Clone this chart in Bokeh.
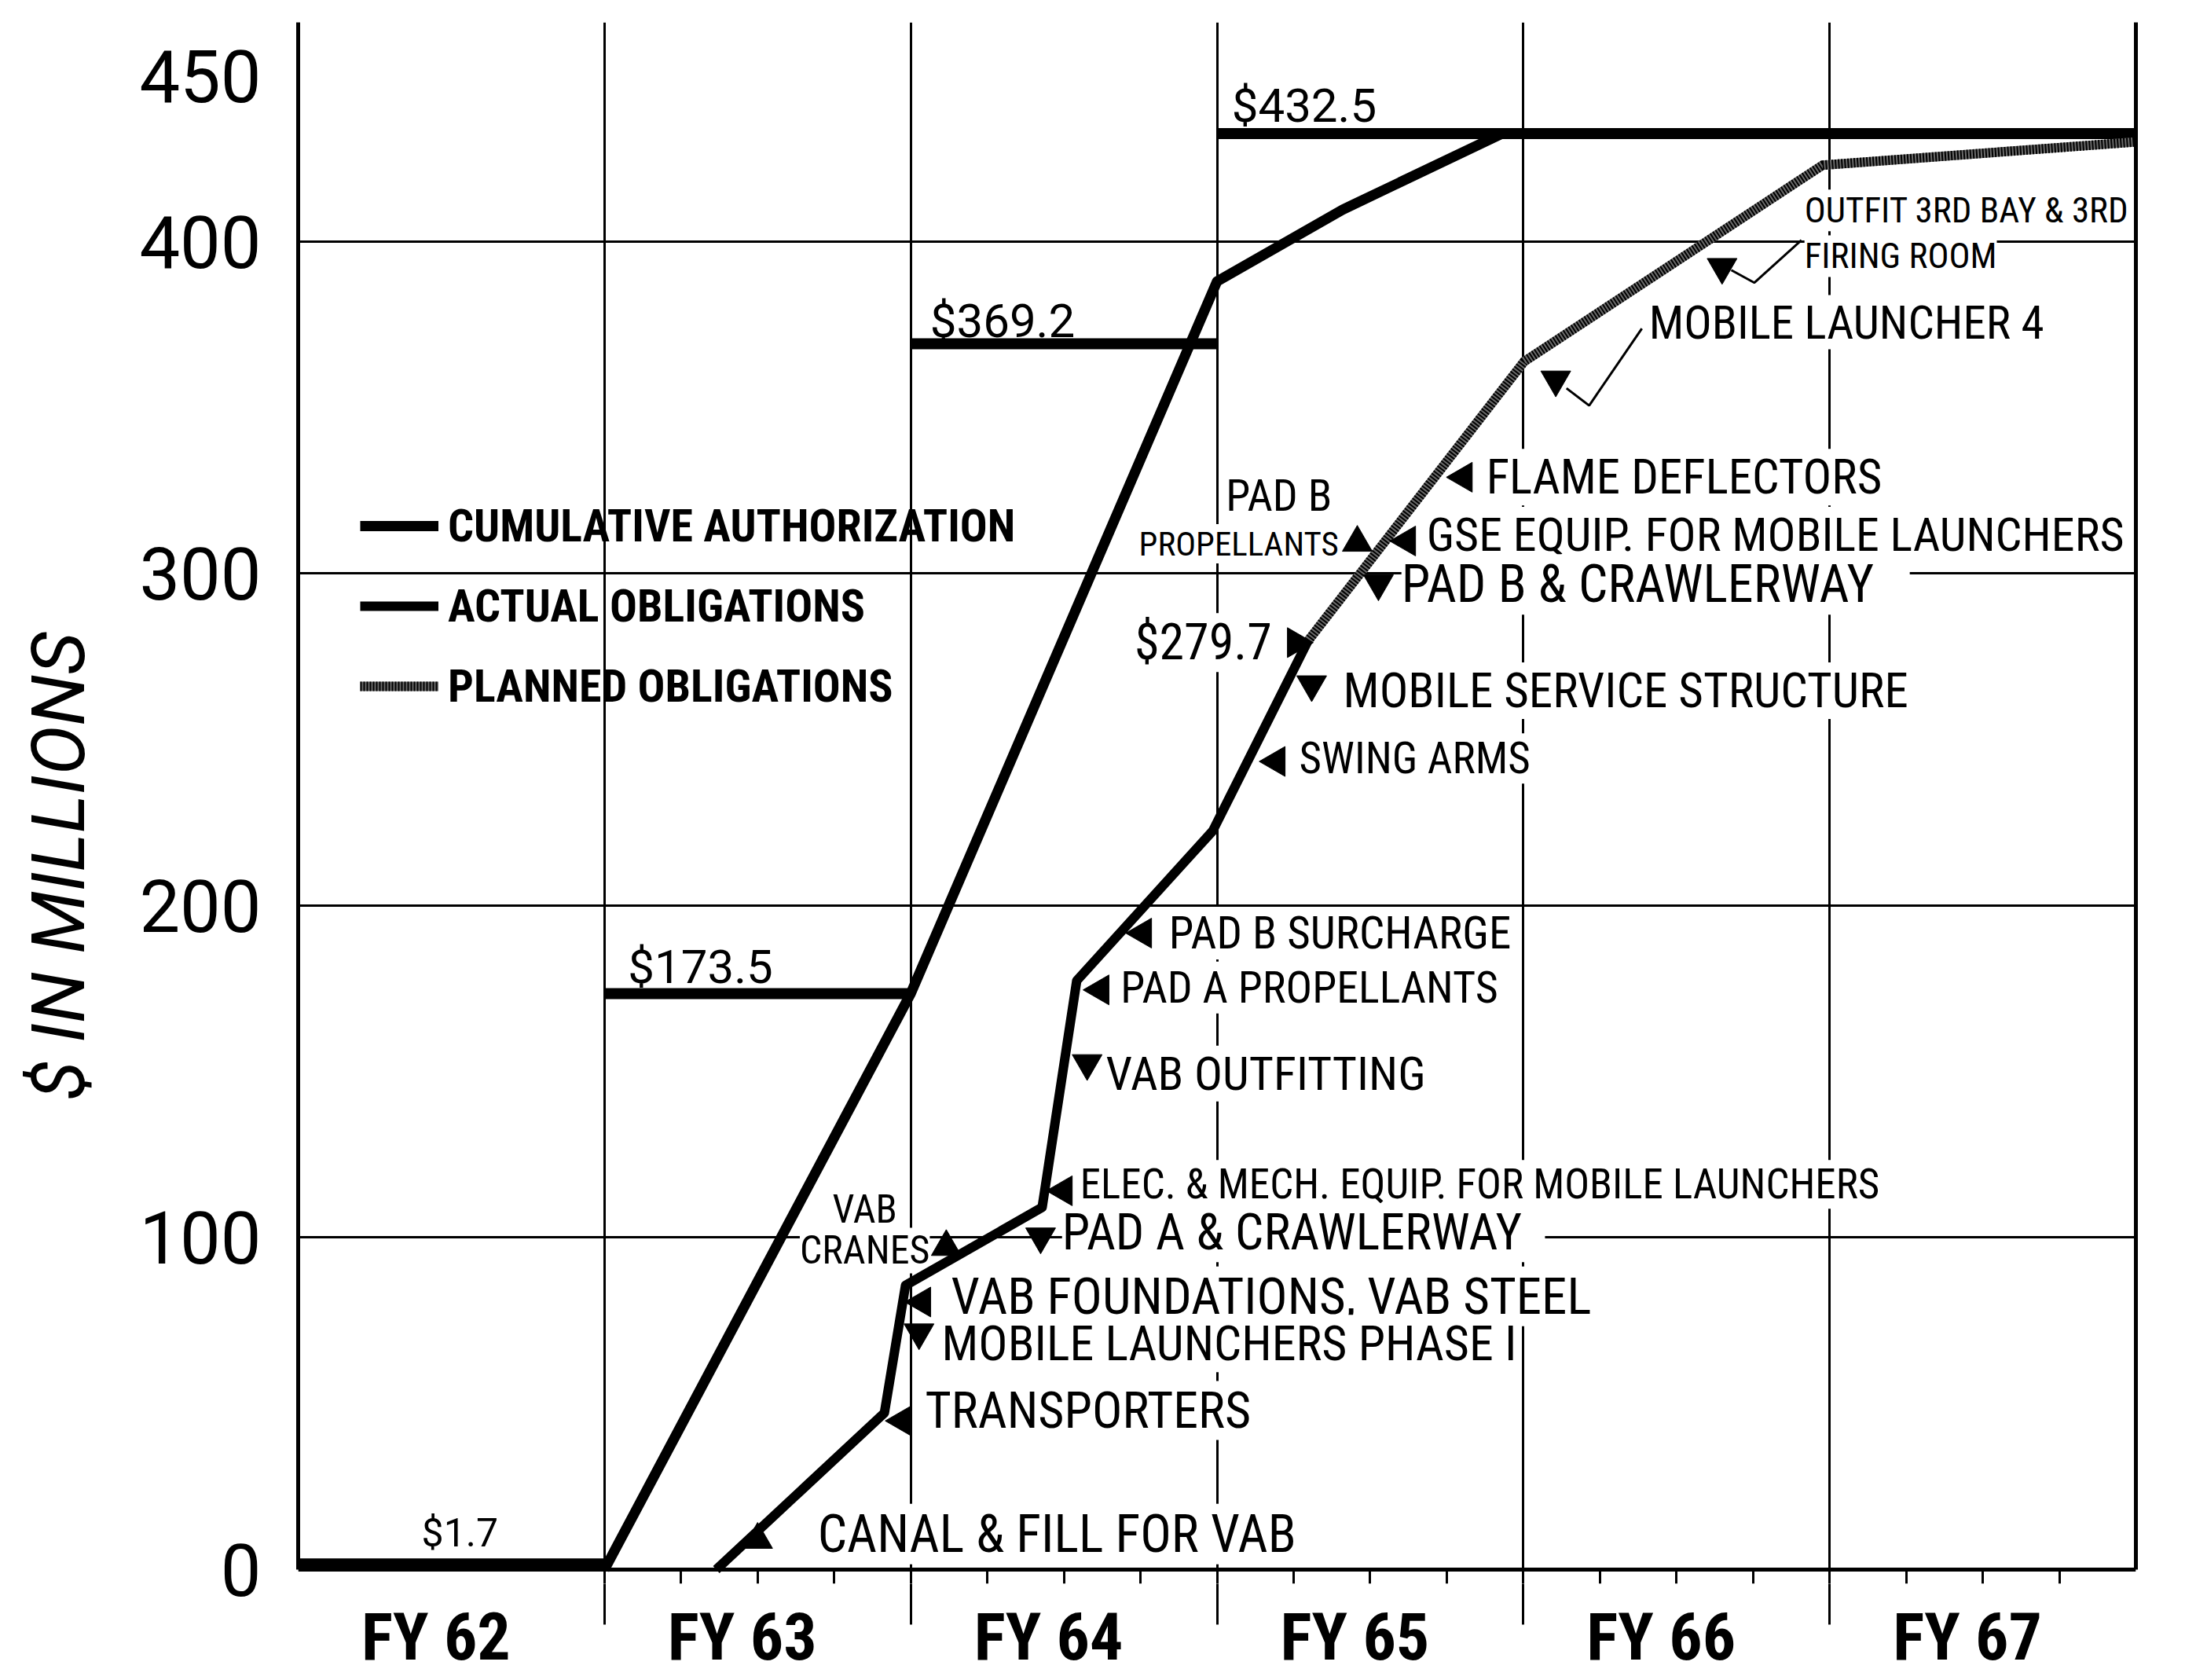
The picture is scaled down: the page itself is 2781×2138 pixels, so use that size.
import math
from bokeh.plotting import figure
from bokeh.models import (Range1d, LinearAxis, FixedTicker, Grid, Legend, LegendItem)
from bokeh.core.properties import value
from bokeh.embed import file_html
from bokeh.resources import INLINE

# ---------------- data ----------------
fy_labels = ["FY 62", "FY 63", "FY 64", "FY 65", "FY 66", "FY 67"]
fy_label_pos = [0.45, 1.45, 2.45, 3.45, 4.45, 5.45]
fy_bounds = [1, 2, 3, 4, 5]
y_ticks = [0, 100, 200, 300, 400, 450]
y_grid = [100, 200, 300, 400]

# cumulative authorization by fiscal year ($ millions)
auth_start = [0, 1, 2, 3]
auth_end = [1, 2, 3, 6]
auth_values = [1.7, 173.5, 369.2, 432.5]
auth_labels = ["$1.7", "$173.5", "$369.2", "$432.5"]

# cumulative authorization build-up line
auth_line_x = [1.0, 2.0, 3.0, 3.41, 3.93, 6.0]
auth_line_y = [0.0, 173.5, 388.0, 409.6, 432.5, 432.5]

# actual obligations
actual_x = [1.365, 1.914, 1.983, 2.429, 2.542, 2.986, 3.297]
actual_y = [0.0, 47.2, 85.6, 109.1, 177.4, 222.5, 279.7]

# planned obligations
planned_x = [3.297, 4.002, 4.977, 6.0]
planned_y = [279.7, 363.8, 423.0, 430.0]

# ---------------- annotation layout ----------------
auth_label_x = [0.403, 1.077, 2.063, 3.048]
auth_label_y = [11.0, 181.5, 376.0, 441.0]
auth_label_size = ["50px", "60px", "60px", "60px"]

# milestone notes: text, x, y, align, size
notes = [
    ("CANAL & FILL FOR VAB", 1.696, 10.7, "left", "66px"),
    ("TRANSPORTERS", 2.047, 47.9, "left", "64px"),
    ("MOBILE LAUNCHERS PHASE I", 2.101, 68.1, "left", "62px"),
    ("VAB FOUNDATIONS, VAB STEEL", 2.132, 82.3, "left", "65px"),
    ("VAB", 1.850, 108.6, "center", "50px"),
    ("CRANES", 1.850, 96.1, "center", "50px"),
    ("PAD A  &  CRAWLERWAY", 2.494, 101.5, "left", "64px"),
    ("ELEC. & MECH. EQUIP. FOR MOBILE LAUNCHERS", 2.553, 116.0, "left", "53px"),
    ("VAB OUTFITTING", 2.637, 149.4, "left", "60px"),
    ("PAD A PROPELLANTS", 2.685, 175.3, "left", "56px"),
    ("PAD B SURCHARGE", 2.843, 191.7, "left", "57px"),
    ("SWING ARMS", 3.268, 244.3, "left", "55px"),
    ("MOBILE  SERVICE  STRUCTURE", 3.412, 264.7, "left", "61px"),
    ("$279.7", 3.179, 279.2, "right", "64px"),
    ("PAD  B  &  CRAWLERWAY", 3.602, 296.7, "left", "66px"),
    ("GSE  EQUIP. FOR MOBILE LAUNCHERS", 3.684, 311.7, "left", "60px"),
    ("PAD B", 3.202, 323.5, "center", "56px"),
    ("PROPELLANTS", 3.071, 309.0, "center", "43px"),
    ("FLAME DEFLECTORS", 3.879, 329.0, "left", "61px"),
    ("MOBILE LAUNCHER 4", 4.410, 375.7, "left", "59px"),
    ("OUTFIT 3RD BAY & 3RD", 4.918, 409.4, "left", "45px"),
    ("FIRING ROOM", 4.918, 395.6, "left", "45px"),
]

# arrowheads: x, y, direction
arrows = [
    (1.50, 9.0, "up"), (1.973, 44.8, "left"), (2.027, 71.4, "down"),
    (2.037, 80.6, "left"), (2.116, 97.2, "up"), (2.424, 100.3, "down"),
    (2.499, 114.1, "left"), (2.576, 152.5, "down"), (2.619, 174.6, "left"),
    (2.758, 191.7, "left"), (3.194, 243.4, "left"), (3.309, 266.6, "down"),
    (3.258, 279.2, "right"), (3.527, 297.0, "down"), (3.620, 309.8, "left"),
    (3.458, 309.3, "up"), (3.805, 329.0, "left"), (4.106, 358.4, "down"),
    (4.649, 392.3, "down"),
]
leaders_x = [[4.141, 4.215, 4.387], [4.679, 4.754, 4.908]]
leaders_y = [[355.8, 350.6, 373.8], [391.4, 387.6, 400.4]]

# ---------------- styling ----------------
FONT = "Roboto"
FONT_COND = "Roboto Condensed, Roboto"
INK = "black"

p = figure(width=2781, height=2138,
           x_range=Range1d(0, 6), y_range=Range1d(-4.26, 466),
           x_axis_type=None, y_axis_type=None,
           toolbar_location=None, output_backend="svg",
           min_border_left=379, min_border_right=63,
           min_border_top=28, min_border_bottom=123,
           outline_line_color=None,
           background_fill_color="white", border_fill_color="white")

# grids
p.add_layout(Grid(dimension=0, ticker=FixedTicker(ticks=fy_bounds),
                  grid_line_color=INK, grid_line_width=3))
p.add_layout(Grid(dimension=1, ticker=FixedTicker(ticks=y_grid),
                  grid_line_color=INK, grid_line_width=3))

# y axis (left) with its title, and the right border
yax = LinearAxis(ticker=FixedTicker(ticks=y_ticks), bounds=(0, 466),
                 axis_line_width=5, axis_line_color=INK,
                 major_tick_in=0, major_tick_out=0,
                 major_tick_line_color=None, minor_tick_line_color=None,
                 major_label_standoff=47,
                 major_label_text_font=FONT,
                 major_label_text_font_size="92px",
                 major_label_text_color=INK,
                 axis_label="$ IN MILLIONS" + "\u00a0" * 7,
                 axis_label_standoff=44,
                 axis_label_text_font=FONT,
                 axis_label_text_font_style="italic",
                 axis_label_text_font_size="94px",
                 axis_label_text_color=INK)
p.add_layout(yax, "left")
rax = LinearAxis(ticker=FixedTicker(ticks=[]), bounds=(0, 466),
                 axis_line_width=5, axis_line_color=INK,
                 major_tick_line_color=None, minor_tick_line_color=None)
p.add_layout(rax, "right")

# baseline with quarter ticks
quarters = [f + q for f in fy_bounds for q in (0.25, 0.5, 0.75)]
xbase = LinearAxis(ticker=FixedTicker(ticks=[], minor_ticks=quarters),
                   fixed_location=0,
                   axis_line_width=5, axis_line_color=INK,
                   major_tick_line_color=None,
                   minor_tick_in=0, minor_tick_out=18,
                   minor_tick_line_width=3, minor_tick_line_color=INK)
p.add_layout(xbase, "below")

# fiscal-year labels with the year-boundary ticks continuing below
xax = LinearAxis(ticker=FixedTicker(ticks=fy_label_pos, minor_ticks=fy_bounds),
                 axis_line_color=None,
                 major_tick_in=0, major_tick_out=0, major_tick_line_color=None,
                 minor_tick_in=0, minor_tick_out=52,
                 minor_tick_line_width=3, minor_tick_line_color=INK,
                 major_label_overrides={c: l for c, l in zip(fy_label_pos, fy_labels)},
                 major_label_standoff=-34,
                 major_label_text_font=FONT_COND,
                 major_label_text_font_style="bold",
                 major_label_text_font_size="84px",
                 major_label_text_color=INK)
p.add_layout(xax, "below")

# milestone notes on white boxes (they interrupt the grid like the original);
# drawn top to bottom so each box only overlaps empty space of the one above
for t, x, y, a, s in sorted(notes, key=lambda n: -n[2]):
    p.text(x=[x], y=[y], text=[t],
           text_align=a, text_baseline="middle", text_color=INK,
           text_font=value(FONT_COND), text_font_size=value(s),
           background_fill_color="white")

# authorization value labels
for lx, ly, lt, ls in zip(auth_label_x, auth_label_y, auth_labels, auth_label_size):
    p.text(x=[lx], y=[ly], text=[lt], text_align="left", text_baseline="middle",
           text_font=value(FONT), text_font_size=value(ls), text_color=INK)

# authorization steps and build-up
r_auth_steps = p.segment(x0=auth_start, y0=auth_values, x1=auth_end, y1=auth_values,
                         line_color=INK, line_width=14, line_cap="butt")
r_auth_line = p.line(auth_line_x, auth_line_y, line_color=INK, line_width=13,
                     line_join="round")
r_actual = p.line(actual_x, actual_y, line_color=INK, line_width=12, line_join="round")
r_plan_base = p.line(planned_x, planned_y, line_color="#6a6a6a", line_width=12,
                     line_join="round")
r_plan_hatch = p.line(planned_x, planned_y, line_color=INK, line_width=12,
                      line_dash="2 2", line_join="round")

# leaders and arrowheads
p.multi_line(leaders_x, leaders_y, line_color=INK, line_width=3)
ang = {"up": 0.0, "left": math.pi / 2, "down": math.pi, "right": -math.pi / 2}
p.scatter(x=[a[0] for a in arrows], y=[a[1] for a in arrows],
          angle=[ang[a[2]] for a in arrows], marker="triangle",
          size=38, fill_color=INK, line_color=INK)

legend = Legend(items=[
    LegendItem(label="CUMULATIVE AUTHORIZATION", renderers=[r_auth_line]),
    LegendItem(label="ACTUAL OBLIGATIONS", renderers=[r_actual]),
    LegendItem(label="PLANNED OBLIGATIONS", renderers=[r_plan_base, r_plan_hatch]),
], location=(79, 1097), orientation="vertical",
    glyph_width=100, glyph_height=90, label_height=90, label_standoff=12,
    spacing=12, padding=0, margin=0,
    border_line_color=None, background_fill_alpha=0,
    label_text_font=FONT_COND, label_text_font_style="bold",
    label_text_font_size="58px", label_text_color=INK)
p.add_layout(legend)

open("out.html", "w").write(file_html(p, INLINE))
